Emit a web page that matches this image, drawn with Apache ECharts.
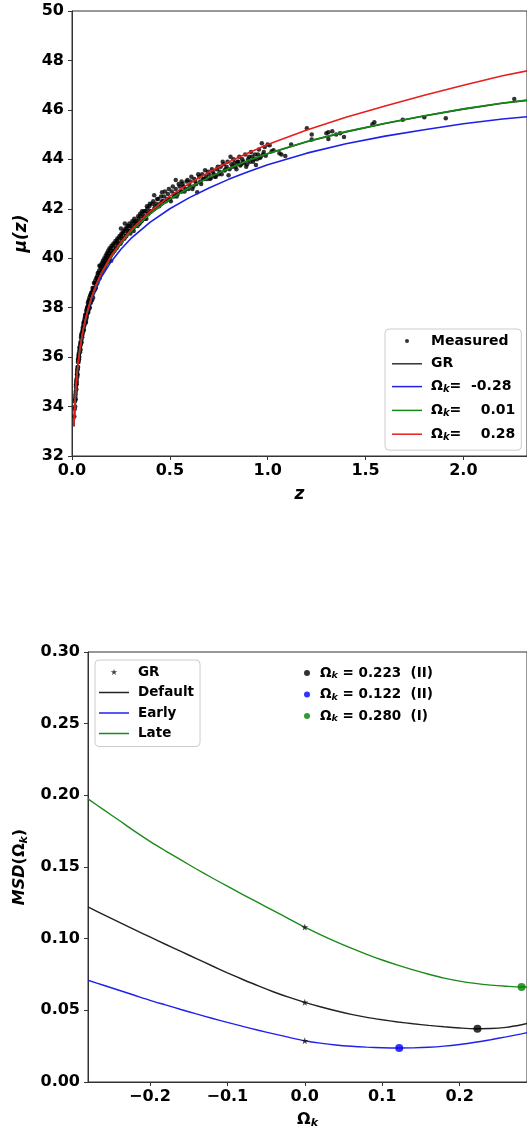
<!DOCTYPE html>
<html><head><meta charset="utf-8">
<script src="https://cdn.jsdelivr.net/npm/echarts@6/dist/echarts.min.js"></script>
<style>html,body{margin:0;padding:0;background:#fff}#c{width:527px;height:1130px}</style>
</head><body><div id="c"></div>
<script>
// ---------- Top panel: distance modulus ----------
const zGrid  = [0.01,0.015,0.02,0.025,0.03,0.04,0.05,0.06,0.07,0.08,0.09,0.1,0.12,0.15,0.2,0.25,0.3,0.4,0.5,0.6,0.7,0.8,0.9,1.0,1.2,1.4,1.6,1.8,2.0,2.2,2.35];
const muGR   = [33.2,34.1,34.75,35.22,35.65,36.3,36.8,37.2,37.55,37.87,38.14,38.4,38.83,39.37,40.05,40.6,41.07,41.8,42.38,42.86,43.27,43.62,43.94,44.23,44.71,45.11,45.45,45.75,46.03,46.27,46.41];
const muNeg  = [33.2,34.1,34.74,35.21,35.64,36.29,36.78,37.17,37.51,37.82,38.08,38.33,38.74,39.24,39.86,40.36,40.79,41.46,42.0,42.45,42.84,43.19,43.5,43.78,44.25,44.63,44.94,45.2,45.44,45.63,45.74];
const muZero = [33.2,34.1,34.75,35.22,35.65,36.3,36.8,37.2,37.55,37.87,38.14,38.4,38.83,39.37,40.05,40.6,41.07,41.8,42.38,42.86,43.27,43.63,43.95,44.24,44.72,45.12,45.46,45.76,46.04,46.28,46.42];
const muPos  = [33.21,34.11,34.76,35.23,35.66,36.31,36.81,37.22,37.57,37.9,38.17,38.43,38.87,39.41,40.1,40.66,41.14,41.9,42.51,43.03,43.48,43.89,44.26,44.6,45.19,45.7,46.16,46.59,47.0,47.38,47.62];
const omegaCases = ['-0.28','0.01','0.28'];
const measured = [
[0.012,33.6],[0.014,33.9],[0.015,34.2],[0.016,34.0],[0.017,34.4],[0.018,34.5],[0.019,34.3],[0.020,34.8],[0.021,34.9],[0.022,34.7],
[0.023,35.1],[0.024,35.0],[0.025,35.3],[0.026,35.4],[0.027,35.2],[0.028,35.6],[0.029,35.5],[0.030,35.8],[0.031,35.6],[0.032,35.9],
[0.033,36.0],[0.034,35.8],[0.035,36.1],[0.036,36.2],[0.037,36.0],[0.038,36.3],[0.040,36.4],[0.041,36.2],[0.043,36.6],[0.045,36.5],
[0.046,36.8],[0.048,36.7],[0.050,36.9],[0.052,36.8],[0.054,37.1],[0.056,37.0],[0.058,37.3],[0.060,37.2],[0.062,37.4],[0.064,37.3],
[0.066,37.6],[0.068,37.4],[0.070,37.7],[0.072,37.5],[0.074,37.8],[0.076,37.7],[0.078,38.0],[0.080,37.8],[0.082,38.1],[0.084,37.9],
[0.086,38.2],[0.088,38.0],[0.090,38.3],[0.093,38.2],[0.095,38.5],[0.098,38.3],[0.100,38.6],
[0.103,38.5],[0.106,38.7],[0.108,38.4],[0.110,38.8],[0.113,38.7],[0.116,39.0],[0.118,38.8],[0.120,39.0],[0.123,38.9],[0.126,39.2],
[0.128,39.0],[0.130,39.3],[0.133,39.1],[0.136,39.4],[0.138,39.2],[0.140,39.4],[0.143,39.3],[0.146,39.6],[0.150,39.4],[0.153,39.7],
[0.156,39.5],[0.160,39.8],[0.163,39.6],[0.166,39.9],[0.170,39.7],[0.173,40.0],[0.176,39.8],[0.180,40.1],[0.183,39.9],[0.186,40.2],
[0.190,40.0],[0.194,40.3],[0.198,40.1],[0.200,40.4],[0.205,40.2],[0.210,40.5],[0.215,40.3],[0.220,40.6],[0.225,40.4],[0.230,40.7],
[0.235,40.5],[0.240,40.8],[0.245,40.6],[0.250,40.9],[0.255,40.7],[0.260,41.0],[0.265,40.8],[0.270,41.1],[0.270,41.4],[0.275,40.9],
[0.280,41.2],[0.285,41.0],[0.290,41.3],[0.295,41.1],[0.300,41.3],[0.140,39.7],[0.250,41.2],[0.200,39.9],
[0.305,41.2],[0.310,41.4],[0.315,41.1],[0.320,41.5],[0.325,41.3],[0.330,41.5],[0.335,41.3],[0.340,41.6],[0.345,41.4],[0.350,41.7],
[0.355,41.5],[0.360,41.8],[0.365,41.6],[0.370,41.7],[0.375,41.9],[0.380,41.6],[0.385,42.0],[0.390,41.8],[0.395,42.1],[0.400,41.9],
[0.410,42.2],[0.420,42.0],[0.420,42.55],[0.430,42.2],[0.440,42.4],[0.450,42.2],[0.460,42.67],[0.460,42.3],[0.470,42.5],[0.480,42.3],
[0.490,42.6],[0.500,42.4],[0.510,42.7],[0.520,42.5],[0.530,42.8],[0.530,43.16],[0.540,42.6],[0.550,42.9],[0.560,43.1],[0.560,42.7],
[0.570,42.9],[0.580,42.8],[0.590,43.16],[0.600,42.95],
[0.610,43.3],[0.620,42.9],[0.630,43.1],[0.640,42.67],[0.650,43.3],[0.660,43.0],[0.670,43.2],[0.680,43.56],[0.690,43.2],[0.700,43.4],
[0.710,43.25],[0.720,43.5],[0.730,43.3],[0.740,43.6],[0.750,43.4],[0.760,43.7],[0.770,43.9],[0.780,43.55],[0.790,43.7],[0.800,43.36],
[0.810,44.1],[0.820,43.7],[0.830,43.85],[0.840,43.6],[0.850,43.9],[0.860,43.75],[0.870,44.0],[0.880,43.85],[0.890,43.7],[0.900,44.0],
[0.910,43.9],[0.920,44.1],[0.930,44.0],[0.940,43.77],[0.950,44.2],[0.960,44.05],[0.970,44.65],[0.980,44.3],[0.990,44.15],[1.000,44.6],
[1.010,44.57],[1.020,44.33],[1.030,44.37],[1.060,44.25],[1.070,44.2],[1.090,44.13],[1.120,44.6],[1.200,45.26],[1.225,45.0],[1.225,44.8],
[1.300,45.06],[1.310,45.1],[1.330,45.14],[1.350,45.0],[1.370,45.06],[1.390,44.9],[1.310,44.82],[1.535,45.42],[1.545,45.5],[1.690,45.6],
[1.800,45.7],[1.910,45.66],[2.260,46.44],
[0.016,34.3],[0.019,34.6],[0.022,35.0],[0.024,34.9],[0.027,35.5],[0.029,35.3],[0.031,35.9],[0.034,36.1],[0.036,35.9],[0.039,36.4],
[0.042,36.5],[0.044,36.3],[0.047,36.9],[0.049,36.6],[0.051,37.0],[0.053,36.9],[0.055,37.2],[0.057,37.1],[0.059,37.4],[0.061,37.1],
[0.063,37.5],[0.065,37.4],[0.067,37.7],[0.069,37.6],[0.071,37.4],[0.073,37.9],[0.075,37.6],[0.077,38.0],[0.079,37.9],[0.081,38.2],
[0.083,37.8],[0.085,38.3],[0.087,38.1],[0.089,38.4],[0.091,38.0],[0.094,38.5],[0.096,38.2],[0.099,38.6],
[0.102,38.3],[0.105,38.8],[0.109,38.6],[0.112,39.0],[0.115,38.7],[0.119,39.1],[0.122,38.8],[0.125,39.2],[0.129,39.0],[0.132,39.4],
[0.135,39.2],[0.139,39.5],[0.142,39.2],[0.145,39.7],[0.148,39.4],[0.152,39.8],[0.155,39.5],[0.158,39.9],[0.162,39.6],[0.165,40.0],
[0.168,39.7],[0.172,40.1],[0.175,39.8],[0.178,40.2],[0.182,40.0],[0.185,40.3],[0.188,39.9],[0.192,40.4],[0.196,40.1],[0.202,40.5],
[0.207,40.2],[0.212,40.6],[0.217,40.3],[0.222,40.7],[0.227,40.4],[0.232,40.8],[0.238,40.6],[0.243,40.9],[0.248,40.6],[0.253,41.0],
[0.258,40.8],[0.263,41.1],[0.268,40.8],[0.273,41.2],[0.278,40.9],[0.283,41.3],[0.288,41.1],[0.293,41.4],[0.298,41.0],
[0.308,41.5],[0.313,41.2],[0.318,41.6],[0.323,41.3],[0.328,41.4],[0.338,41.7],[0.343,41.4],[0.348,41.8],[0.353,41.5],[0.358,41.9],
[0.368,41.9],[0.373,41.6],[0.383,42.1],[0.388,41.8],[0.398,42.2],[0.405,41.9],[0.415,42.3],[0.425,42.1],[0.435,42.4],[0.445,42.1],
[0.455,42.5],[0.465,42.3],[0.475,42.7],[0.485,42.4],[0.495,42.8],[0.505,42.3],[0.515,42.9],[0.525,42.6],[0.535,42.5],[0.545,43.0],
[0.555,42.7],[0.565,43.0],[0.575,42.7],[0.585,43.1],[0.595,42.8],
[0.605,43.1],[0.615,42.8],[0.625,43.2],[0.635,43.0],[0.645,43.4],[0.655,43.1],[0.665,43.4],[0.675,43.2],[0.685,43.3],[0.695,43.5],
[0.705,43.2],[0.715,43.6],[0.725,43.4],[0.735,43.3],[0.745,43.7],[0.755,43.5],[0.765,43.4],[0.775,43.8],[0.785,43.6],[0.795,43.9],
[0.805,43.6],[0.815,43.8],[0.825,44.0],[0.835,43.7],[0.845,43.9],[0.855,44.1],[0.865,43.8],[0.875,43.9],[0.885,44.2],[0.895,43.8],
[0.905,44.1],[0.915,44.3],[0.925,43.9],[0.935,44.2],[0.945,44.0],[0.955,44.4],[0.965,44.1],[0.975,44.2],[0.985,44.5]
];
const zTicks  = [0, 0.5, 1.0, 1.5, 2.0];

// ---------- Bottom panel: MSD ----------
const omega      = [-0.28,-0.26,-0.24,-0.22,-0.20,-0.18,-0.16,-0.14,-0.12,-0.10,-0.08,-0.06,-0.04,-0.02,0,0.02,0.04,0.06,0.08,0.10,0.12,0.14,0.16,0.18,0.20,0.22,0.24,0.26,0.28,0.29];
const msdDefault = [0.1221,0.1168,0.1115,0.1063,0.1012,0.0961,0.0911,0.0861,0.0811,0.0762,0.0715,0.0670,0.0628,0.0590,0.0556,0.0525,0.0497,0.0472,0.0451,0.0434,0.0419,0.0406,0.0395,0.0385,0.0377,0.0372,0.0373,0.0381,0.0399,0.0412];
const msdEarly   = [0.0710,0.0675,0.0640,0.0605,0.0570,0.0538,0.0506,0.0475,0.0445,0.0416,0.0388,0.0361,0.0336,0.0311,0.0288,0.0271,0.0258,0.0249,0.0243,0.0239,0.0237,0.0238,0.0242,0.0250,0.0262,0.0277,0.0295,0.0315,0.0336,0.0347];
const msdLate    = [0.1975,0.1900,0.1826,0.1750,0.1679,0.1613,0.1549,0.1486,0.1425,0.1366,0.1308,0.1251,0.1194,0.1137,0.1081,0.1029,0.0980,0.0934,0.0891,0.0851,0.0815,0.0782,0.0752,0.0725,0.0704,0.0688,0.0676,0.0668,0.0663,0.0663];
const grOmega    = [0, 0, 0];
const grMSD      = [0.0556, 0.0288, 0.1081];
const bestOmega  = [0.223, 0.122, 0.280];
const bestMSD    = [0.0372, 0.0237, 0.0663];
const bestCase   = ['(II)', '(II)', '(I)'];
const omegaTicks = [-0.2, -0.1, 0, 0.1, 0.2];

const FONT = 'DejaVu Sans';
const zip = (a, b) => a.map((v, i) => [v, b[i]]);
const fmtMinus = (v, d) => (v < -1e-9 ? '\u2212' : '') + Math.abs(v).toFixed(d);
const LINE_ICON = 'path://M0,0 L30,0 L30,1.5 L0,1.5 Z';
const STAR = 'path://M50,0 L61.8,35.4 L100,35.4 L69.1,57.3 L80.9,92.7 L50,70.8 L19.1,92.7 L30.9,57.3 L0,35.4 L38.2,35.4 Z';

const mkRich = fs => ({
  a: {fontFamily: FONT, fontWeight: 'bold', fontSize: fs, color: '#000', lineHeight: 16},
  k: {fontFamily: FONT, fontWeight: 'bold', fontStyle: 'italic', fontSize: fs - 4, color: '#000', verticalAlign: 'bottom'}
});

const caseNames = omegaCases.map(v => '\u03A9k = ' + v);
const bestNames = bestOmega.map((v, i) => '\u03A9k = ' + v.toFixed(3) + ' ' + bestCase[i]);

const topLegendFmt = name => {
  const i = caseNames.indexOf(name);
  if (i < 0) return '{a|' + name + '}';
  const v = omegaCases[i];
  return '{a|\u03A9}{k|k}{a|= ' + (v[0] === '-' ? ' ' : '   ') + v + '}';
};
const bestLegendFmt = name => {
  const i = bestNames.indexOf(name);
  return '{a|\u03A9}{k|k}{a| = ' + bestOmega[i].toFixed(3) + '  ' + bestCase[i] + '}';
};

const axisCommon = {
  axisLine: {show: true, onZero: false, lineStyle: {color: '#333', width: 1}},
  axisTick: {show: true, length: 4, lineStyle: {color: '#333'}},
  splitLine: {show: false},
  axisLabel: {fontFamily: FONT, fontWeight: 'bold', fontSize: 16, color: '#000'}
};

const chart = echarts.init(document.getElementById('c'), null, {renderer: 'canvas'});
chart.setOption({
  animation: false,
  backgroundColor: '#fff',
  grid: [
    {left: 72, top: 11, bottom: 674, right: -3, show: true, borderColor: '#333', borderWidth: 1},
    {left: 88, top: 652, bottom: 48, right: -3, show: true, borderColor: '#333', borderWidth: 1}
  ],
  xAxis: [
    Object.assign({}, axisCommon, {
      gridIndex: 0, type: 'value', min: 0, max: 2.325,
      axisTick: Object.assign({}, axisCommon.axisTick, {customValues: zTicks}),
      axisLabel: Object.assign({}, axisCommon.axisLabel, {customValues: zTicks, margin: 7, formatter: v => v.toFixed(1)}),
      name: 'z', nameLocation: 'middle', nameGap: 30,
      nameTextStyle: {fontFamily: FONT, fontWeight: 'bold', fontStyle: 'italic', fontSize: 17, color: '#000'}
    }),
    Object.assign({}, axisCommon, {
      gridIndex: 1, type: 'value', min: -0.28, max: 0.287,
      axisTick: Object.assign({}, axisCommon.axisTick, {customValues: omegaTicks}),
      axisLabel: Object.assign({}, axisCommon.axisLabel, {customValues: omegaTicks, margin: 7, formatter: v => fmtMinus(v, 1)}),
      name: '{a|\u03A9}{k|k}', nameLocation: 'middle', nameGap: 28,
      nameTextStyle: {rich: {
        a: {fontFamily: FONT, fontWeight: 'bold', fontSize: 16, color: '#000', lineHeight: 19},
        k: {fontFamily: FONT, fontWeight: 'bold', fontStyle: 'italic', fontSize: 11, color: '#000', verticalAlign: 'bottom'}
      }}
    })
  ],
  yAxis: [
    Object.assign({}, axisCommon, {
      gridIndex: 0, type: 'value', min: 32, max: 50, interval: 2,
      axisLabel: Object.assign({}, axisCommon.axisLabel, {margin: 8}),
      name: '\u03BC(z)', nameLocation: 'middle', nameGap: 42,
      nameTextStyle: {fontFamily: FONT, fontWeight: 'bold', fontStyle: 'italic', fontSize: 17, color: '#000'}
    }),
    Object.assign({}, axisCommon, {
      gridIndex: 1, type: 'value', min: 0, max: 0.30, interval: 0.05,
      axisLabel: Object.assign({}, axisCommon.axisLabel, {margin: 8, formatter: v => v.toFixed(2)}),
      name: '{i|MSD}{a|(\u03A9}{k|k}{a|)}', nameLocation: 'middle', nameGap: 58,
      nameTextStyle: {rich: {
        i: {fontFamily: FONT, fontWeight: 'bold', fontStyle: 'italic', fontSize: 16, color: '#000', lineHeight: 19},
        a: {fontFamily: FONT, fontWeight: 'bold', fontSize: 16, color: '#000', lineHeight: 19},
        k: {fontFamily: FONT, fontWeight: 'bold', fontStyle: 'italic', fontSize: 11, color: '#000', verticalAlign: 'bottom'}
      }}
    })
  ],
  legend: [
    {
      data: [{name: 'Measured', icon: 'circle'}, {name: 'GR', icon: LINE_ICON}].concat(caseNames.map(n => ({name: n, icon: LINE_ICON}))),
      orient: 'vertical', left: 385, top: 329,
      padding: [5, 6, 8, 7], itemGap: 8.8, itemWidth: 30, itemHeight: 4,
      backgroundColor: 'rgba(255,255,255,0.85)', borderColor: '#ccc', borderWidth: 1, borderRadius: 4,
      formatter: topLegendFmt, textStyle: {rich: mkRich(14), padding: [0, 0, 0, 4]}, selectedMode: false
    },
    {
      data: [{name: 'GR ', icon: STAR}, {name: 'Default', icon: LINE_ICON}, {name: 'Early', icon: LINE_ICON}, {name: 'Late', icon: LINE_ICON}],
      orient: 'vertical', left: 95, top: 660,
      padding: [5, 6, 6, 4], itemGap: 6.5, itemWidth: 30, itemHeight: 6,
      backgroundColor: 'rgba(255,255,255,0.85)', borderColor: '#ccc', borderWidth: 1, borderRadius: 4,
      formatter: n => '{a|' + n.trim() + '}', textStyle: {rich: mkRich(13.5), padding: [0, 0, 0, 4]}, selectedMode: false
    },
    {
      data: bestNames.map(n => ({name: n, icon: 'circle'})),
      orient: 'vertical', left: 304, top: 666,
      padding: 0, itemGap: 6.5, itemWidth: 8, itemHeight: 6,
      formatter: bestLegendFmt, textStyle: {rich: mkRich(13.5), padding: [0, 0, 0, 4]}, selectedMode: false
    }
  ],
  series: [
    {name: 'Measured', type: 'scatter', xAxisIndex: 0, yAxisIndex: 0, data: measured,
     symbol: 'circle', symbolSize: 4.5, itemStyle: {color: '#000'}, z: 2},
    {name: 'GR', type: 'line', xAxisIndex: 0, yAxisIndex: 0, data: zip(zGrid, muGR), symbol: 'none',
     lineStyle: {color: '#333', width: 1.6}, itemStyle: {color: '#333'}, z: 3},
    {name: caseNames[0], type: 'line', xAxisIndex: 0, yAxisIndex: 0, data: zip(zGrid, muNeg), symbol: 'none',
     lineStyle: {color: '#1f1fe6', width: 1.6}, itemStyle: {color: '#1f1fe6'}, z: 4},
    {name: caseNames[1], type: 'line', xAxisIndex: 0, yAxisIndex: 0, data: zip(zGrid, muZero), symbol: 'none',
     lineStyle: {color: '#138a13', width: 1.6}, itemStyle: {color: '#138a13'}, z: 5},
    {name: caseNames[2], type: 'line', xAxisIndex: 0, yAxisIndex: 0, data: zip(zGrid, muPos), symbol: 'none',
     lineStyle: {color: '#e61e1e', width: 1.6}, itemStyle: {color: '#e61e1e'}, z: 6},

    {name: 'Default', type: 'line', xAxisIndex: 1, yAxisIndex: 1, data: zip(omega, msdDefault), symbol: 'none',
     smooth: 0.3, lineStyle: {color: '#222', width: 1.4}, itemStyle: {color: '#222'}, z: 3},
    {name: 'Early', type: 'line', xAxisIndex: 1, yAxisIndex: 1, data: zip(omega, msdEarly), symbol: 'none',
     smooth: 0.3, lineStyle: {color: '#2020ee', width: 1.4}, itemStyle: {color: '#2020ee'}, z: 3},
    {name: 'Late', type: 'line', xAxisIndex: 1, yAxisIndex: 1, data: zip(omega, msdLate), symbol: 'none',
     smooth: 0.3, lineStyle: {color: '#1a8a1a', width: 1.4}, itemStyle: {color: '#1a8a1a'}, z: 3},
    {name: 'GR ', type: 'scatter', xAxisIndex: 1, yAxisIndex: 1, data: zip(grOmega, grMSD),
     symbol: STAR, symbolSize: 7, itemStyle: {color: '#111'}, z: 5},
    {name: bestNames[0], type: 'scatter', xAxisIndex: 1, yAxisIndex: 1, data: [[bestOmega[0], bestMSD[0]]],
     symbol: 'circle', symbolSize: 8, itemStyle: {color: '#000'}, z: 6},
    {name: bestNames[1], type: 'scatter', xAxisIndex: 1, yAxisIndex: 1, data: [[bestOmega[1], bestMSD[1]]],
     symbol: 'circle', symbolSize: 8, itemStyle: {color: '#0000ff'}, z: 6},
    {name: bestNames[2], type: 'scatter', xAxisIndex: 1, yAxisIndex: 1, data: [[bestOmega[2], bestMSD[2]]],
     symbol: 'circle', symbolSize: 8, itemStyle: {color: '#008000'}, z: 6}
  ]
});
</script>
</body></html>
